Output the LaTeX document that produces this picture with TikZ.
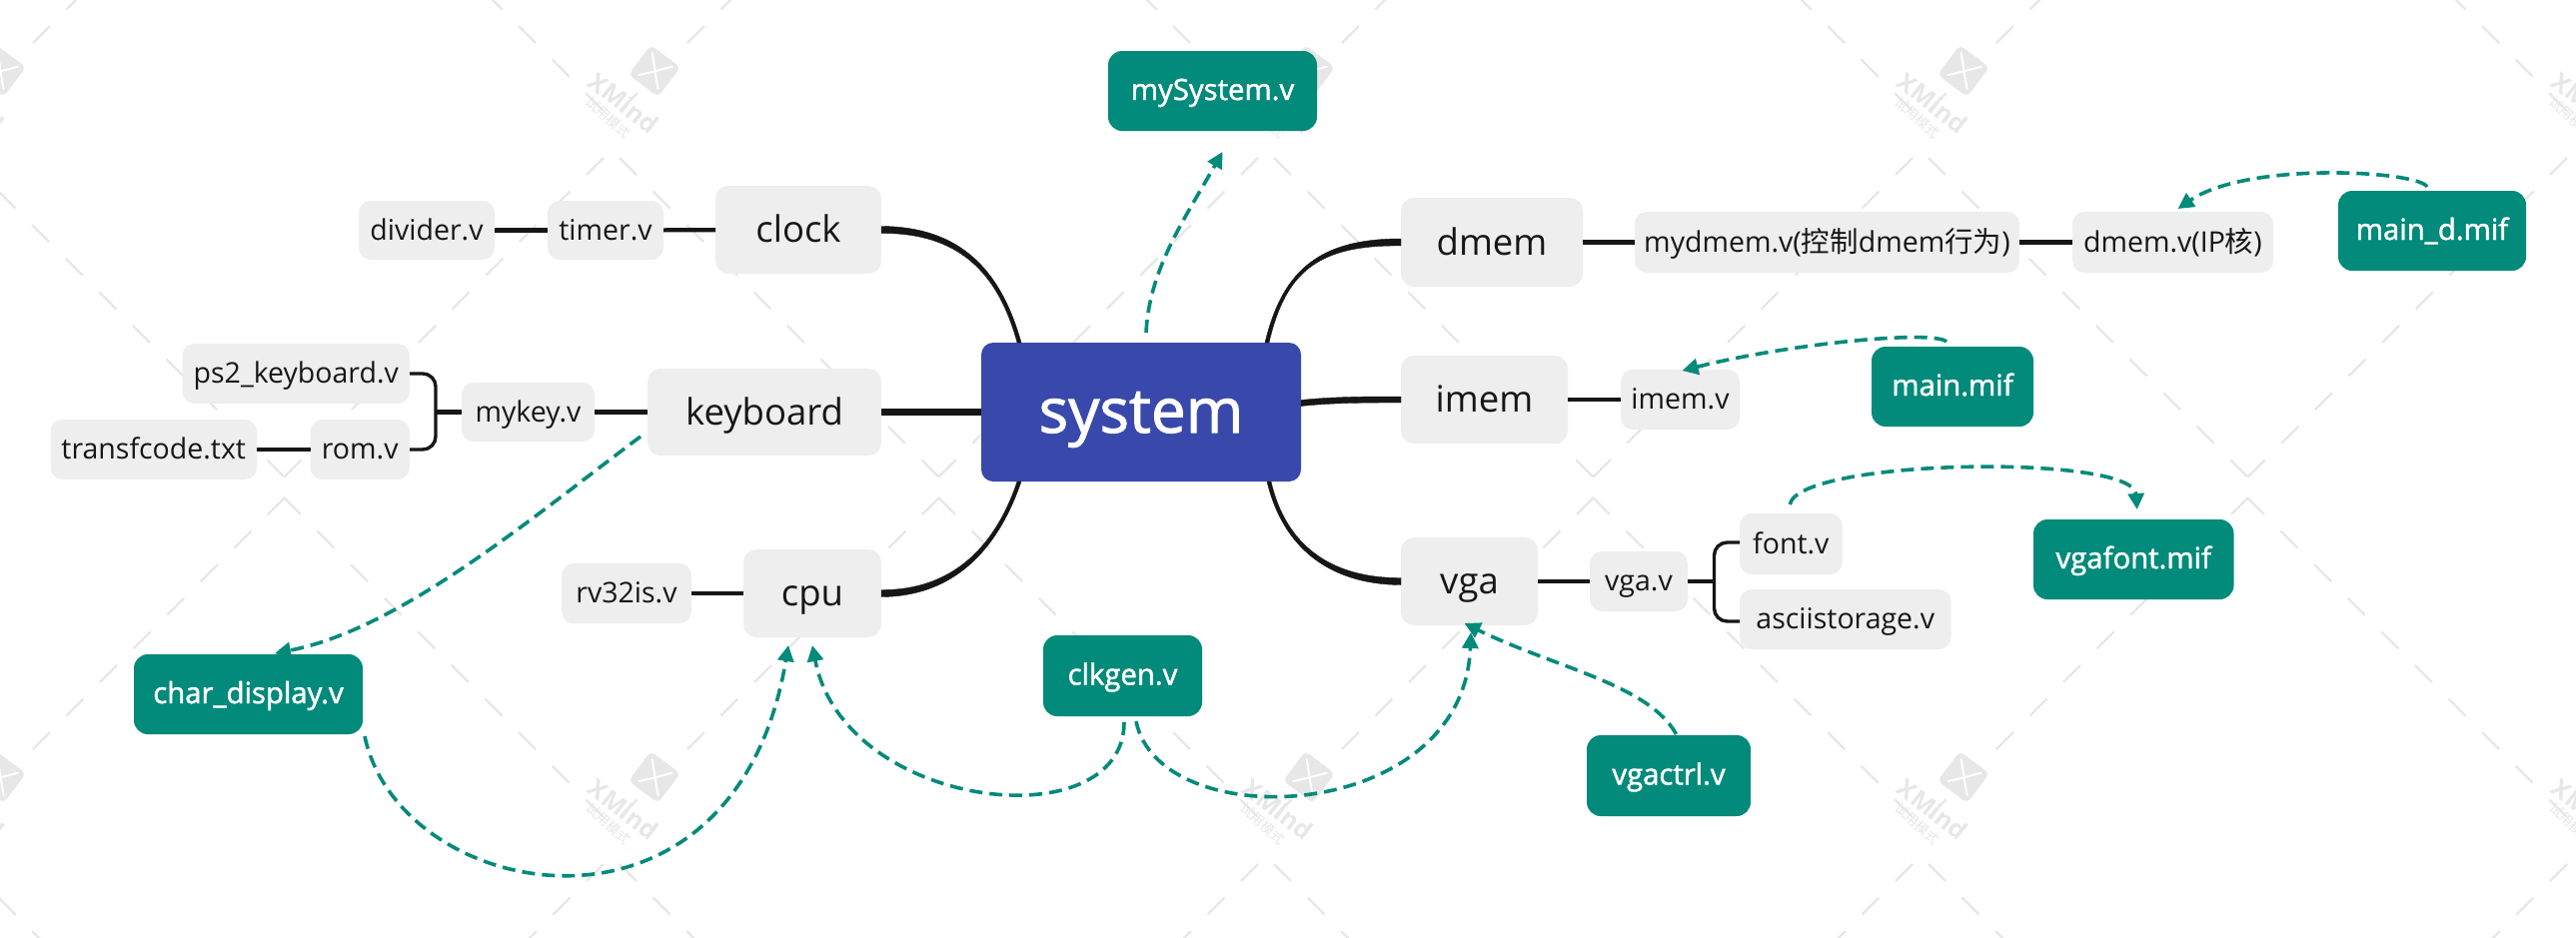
\documentclass[tikz,border=0pt]{standalone}
\usepackage{fontspec}
\setmainfont{Open Sans}
\newfontfamily\cjk{Noto Sans CJK SC}
\newfontfamily\medfont[FakeBold=1.6]{Open Sans}
\usetikzlibrary{arrows.meta}
\definecolor{teal1}{HTML}{028A7A}
\definecolor{blue1}{HTML}{3949AB}
\definecolor{grey1}{HTML}{EEEEEE}
\definecolor{ink}{HTML}{161616}
\definecolor{wm}{HTML}{E7E7E7}
\newcommand\boxn[7]{\node[#1,minimum width={(#5-#3)*1pt},minimum height={(#6-#4)*1pt}] (#2) at ({(#3+#5)/2},{(#4+#6)/2+1}) {#7};}
\tikzset{
  basebox/.style={inner sep=0pt,outer sep=0pt,align=center},
  rootbox/.style={basebox,fill=blue1,rounded corners=12pt,text=white,font=\medfont\fontsize{62}{66}\selectfont,text height=48pt,text depth=7pt},
  mainbox/.style={basebox,fill=grey1,rounded corners=13pt,text=ink,font=\fontsize{36.5}{42}\selectfont,text height=35pt,text depth=9.6pt},
  subbox/.style={basebox,fill=grey1,rounded corners=12pt,text=ink,font=\fontsize{28.5}{34}\selectfont,text height=25pt,text depth=5.5pt},
  notebox/.style={basebox,fill=teal1,rounded corners=14pt,text=white,font=\medfont\fontsize{29.3}{35}\selectfont,text height=24pt,text depth=6pt},
  branch/.style={draw=ink,line width=4.2pt},
  trunk/.style={fill=ink,draw=ink,line width=0.4pt},
  rel/.style={draw=teal1,line width=3.6pt,dash pattern=on 13pt off 7pt,-{Triangle[length=16pt,width=16pt]}},
  wmline/.style={draw=wm,line width=2.4pt,dash pattern=on 24pt off 23.5pt},
}
\begin{document}
\begin{tikzpicture}[x=1pt,y=-1pt]
\clip (0,0) rectangle (2578,938);
\fill[white] (0,0) rectangle (2578,938);
% watermark
\foreach \k in {-1,0,1,2,3}{
  \foreach \r in {-1,0,1}{
    \pgfmathsetmacro\cx{612+655*\k}
    \pgfmathsetmacro\ay{150+707*\r}
    \pgfmathsetmacro\by{822+707*\r}
    \coordinate (ap\k\r) at (\cx,\ay);
    \draw[wmline] (\cx-8,\ay+8) -- (\cx-328,\ay+328);
    \draw[wmline] (\cx+8,\ay+8) -- (\cx+328,\ay+328);
    \draw[wmline] (\cx-328,\by-324) -- (\cx-6,\by-2);
    \draw[wmline] (\cx+328,\by-324) -- (\cx+6,\by-2);
  }
}
\foreach \k in {0,1,2,3,4}{
  \foreach \wy in {71,778}{
    \pgfmathsetmacro\wx{655*\k}
    \node[rectangle,rounded corners=5pt,fill=wm,rotate=-37,minimum size=37pt,inner sep=0pt] (logo\k\wy) at (\wx,\wy) {};
    \draw[white,line width=2pt,line cap=round] (\wx-2.3,\wy-18) .. controls (\wx,\wy-5) and (\wx+1,\wy+5) .. (\wx+3.7,\wy+18);
    \draw[white,line width=2pt,line cap=round] (\wx-15.7,\wy+4) .. controls (\wx-5,\wy+2) and (\wx+5,\wy-1) .. (\wx+17.7,\wy-4.3);
    \node[text=wm,rotate=-38,font=\bfseries\fontsize{25}{28}\selectfont,inner sep=0pt] (wmt\k\wy) at (\wx-30.7,\wy+32) {XMind};
    \node[text=wm,rotate=-42,font=\cjk\fontsize{13.5}{15}\selectfont,inner sep=0pt] (wmc\k\wy) at (\wx-45.7,\wy+47) {试用模式};
  }
}
% nodes
\boxn{rootbox}{system}{982}{342}{1302}{481}{system}
\boxn{mainbox}{clock}{716}{185}{882}{273}{clock}
\boxn{mainbox}{keyboard}{648}{368}{882}{455}{keyboard}
\boxn{mainbox}{cpu}{744}{549}{882}{637}{cpu}
\boxn{mainbox}{dmem}{1402}{197}{1584}{286}{dmem}
\boxn{mainbox}{imem}{1402}{355}{1569}{443}{imem}
\boxn{mainbox}{vga}{1402}{537}{1539}{625}{vga}
\boxn{subbox}{divider}{359}{200}{495}{259}{divider.v}
\boxn{subbox}{timer}{548}{200}{664}{259}{timer.v}
\boxn{subbox}{ps2}{182.5}{343}{410}{403}{ps2\_keyboard.v}
\boxn{subbox}{transf}{50.5}{419}{257}{479}{transfcode.txt}
\boxn{subbox}{rom}{310.5}{419}{410}{479}{rom.v}
\boxn{subbox}{mykey}{462}{382}{595}{441}{mykey.v}
\boxn{subbox}{rv}{562}{563}{692}{623}{rv32is.v}
\boxn{subbox}{mydmem}{1636}{211}{2021}{272}{mydmem.v({\cjk 控制}dmem{\cjk 行为})}
\boxn{subbox}{dmemv}{2074}{211}{2275}{272}{dmem.v(IP{\cjk 核})}
\boxn{subbox}{imemv}{1622}{369}{1741}{429}{imem.v}
\boxn{subbox}{vgav}{1591}{551}{1689}{611}{vga.v}
\boxn{subbox}{font}{1741}{513}{1843.5}{574}{font.v}
\boxn{subbox}{ascii}{1741}{589}{1952.5}{649}{asciistorage.v}
\boxn{notebox}{mySystem}{1109}{50}{1318}{130}{mySystem.v}
\boxn{notebox}{maind}{2340}{190}{2528}{270}{main\_d.mif}
\boxn{notebox}{mainmif}{1873}{346}{2035}{426}{main.mif}
\boxn{notebox}{vgafont}{2035}{519}{2235.5}{599}{vgafont.mif}
\boxn{notebox}{chardisp}{134}{654}{363}{734}{char\_display.v}
\boxn{notebox}{clkgen}{1044}{635}{1203}{716}{clkgen.v}
\boxn{notebox}{vgactrl}{1588}{735}{1752}{816}{vgactrl.v}
% trunks (tapered)
\path[trunk] ([yshift=3.5pt]clock.east) .. controls (961,227) and (1001.5,270) .. ([xshift=-120pt]system.north) -- ([xshift=-124pt]system.north) .. controls (998.5,272) and (959,233) .. ([yshift=-3.5pt]clock.east) -- cycle;
\draw[ink,line width=6.4pt] (keyboard) -- (system);
\path[trunk] ([yshift=3.5pt]cpu.east) .. controls (959,591) and (998.5,540) .. ([xshift=-124pt]system.south) -- ([xshift=-120pt]system.south) .. controls (1001.5,542) and (961,597) .. ([yshift=-3.5pt]cpu.east) -- cycle;
\path[trunk] ([yshift=3.5pt]dmem.west) .. controls (1321,239) and (1283.5,270) .. ([xshift=124pt]system.north) -- ([xshift=128pt]system.north) .. controls (1286.5,272) and (1319,245) .. ([yshift=-3.5pt]dmem.west) -- cycle;
\path[trunk] ([yshift=3pt]imem.west) .. controls (1370,397) and (1335,397) .. ([yshift=12pt]system.east) -- ([yshift=6pt]system.east) .. controls (1335,403) and (1370,403) .. ([yshift=-3pt]imem.west) -- cycle;
\path[trunk] ([yshift=3.5pt]vga.west) .. controls (1331,579) and (1286.5,545) .. ([xshift=130pt]system.south) -- ([xshift=126pt]system.south) .. controls (1283.5,547) and (1329,585) .. ([yshift=-3.5pt]vga.west) -- cycle;
% branches
\draw[branch] (divider) -- (timer);
\draw[branch] (timer) -- (clock);
\draw[branch] (transf) -- (rom);
\draw[branch] (mykey) -- (keyboard);
\coordinate (brk) at (436,412.5);
\draw[branch] (brk) -- (mykey);
\draw[branch,line width=3.4pt,rounded corners=13pt] (ps2.east) -| (brk) |- (rom.east);
\draw[branch] (rv) -- (cpu);
\draw[branch] (dmem) -- (mydmem);
\draw[branch] (mydmem) -- (dmemv);
\draw[branch] (imem) -- (imemv);
\draw[branch] (vga) -- (vgav);
\coordinate (brv) at (1715.5,582);
\draw[branch] (vgav) -- (brv);
\draw[branch,line width=3.4pt,rounded corners=13pt] (font.west |- 0,543) -| (brv) |- (ascii.west |- 0,622);
% relationships
\draw[rel] ([shift={(5,-10)}]system.north) .. controls (1150,270) and (1185,220) .. ([shift={(10,21)}]mySystem.south);
\draw[rel] ([shift={(-5,-4)}]maind.north) .. controls (2420,171) and (2250,161) .. ([shift={(5,-3)}]dmemv.north);
\draw[rel] ([shift={(-6,-5)}]mainmif.north) .. controls (1935,330) and (1790,344) .. ([shift={(2,1)}]imemv.north);
\draw[rel] ([shift={(-7,-19)}]keyboard.south west) .. controls (530,520) and (400,630) .. ([shift={(26.5,-1)}]chardisp.north);
\draw[rel] ([shift={(2,2)}]chardisp.south east) .. controls (400,904) and (735,968) .. ([shift={(-24,8)}]cpu.south);
\draw[rel] ([shift={(1.5,6)}]clkgen.south) .. controls (1125,842) and (845,812) .. ([shift={(0,8)}]cpu.south);
\draw[rel] ([shift={(13.5,5)}]clkgen.south) .. controls (1160,838) and (1465,826) .. ([shift={(1.5,7)}]vga.south);
\draw[rel] ([shift={(7.5,-1)}]vgactrl.north) .. controls (1650,685) and (1555,668) .. ([shift={(-5,-2)}]vga.south);
\draw[rel] ([shift={(-1,-9)}]font.north) .. controls (1800,459) and (2135,454) .. ([shift={(3.5,-10)}]vgafont.north);
\end{tikzpicture}
\end{document}
